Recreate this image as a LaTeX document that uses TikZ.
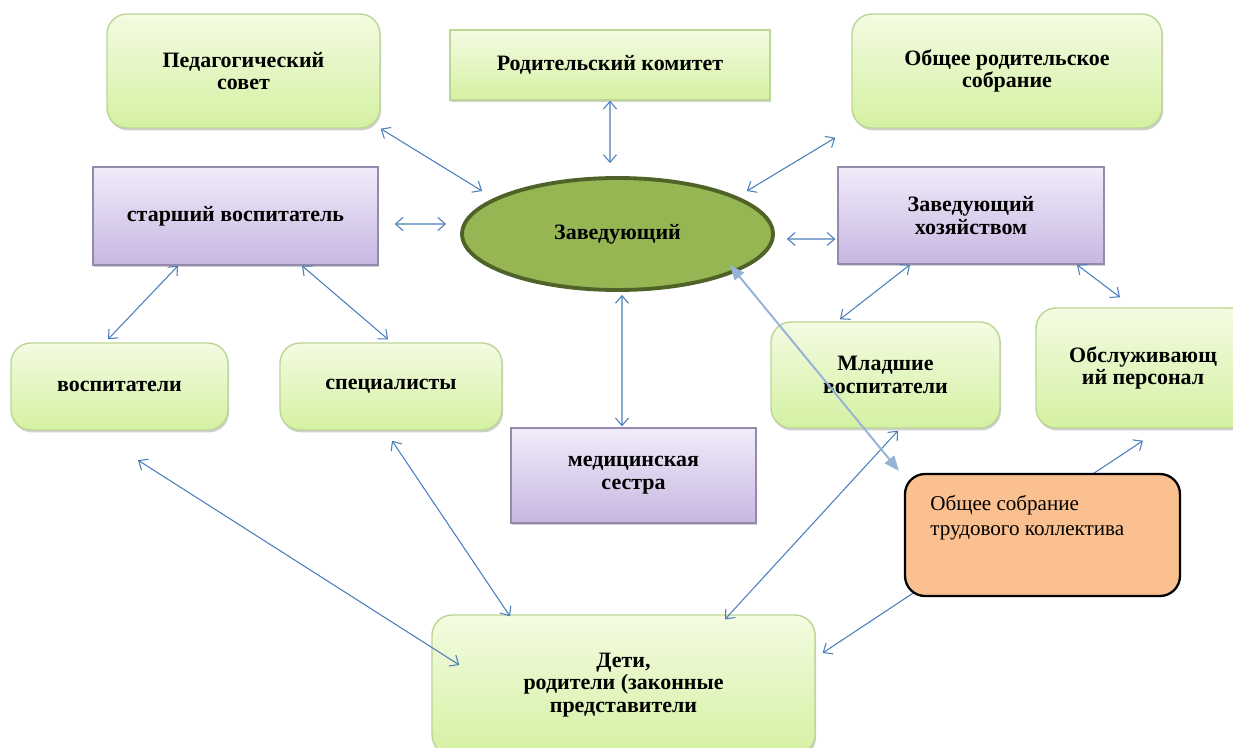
\documentclass[tikz,border=0pt]{standalone}
\usepackage{fontspec}
\setmainfont{Liberation Serif}
\usepackage{tikz}
\usetikzlibrary{shapes.geometric,arrows.meta,shadows}

\definecolor{greentop}{RGB}{244,251,226}
\definecolor{greenbot}{RGB}{212,241,162}
\definecolor{greenline}{RGB}{188,214,150}
\definecolor{violettop}{RGB}{241,235,249}
\definecolor{violetbot}{RGB}{199,183,226}
\definecolor{violetline}{RGB}{150,138,172}
\definecolor{zavfill}{RGB}{150,182,84}
\definecolor{zavline}{RGB}{79,98,40}
\definecolor{linkblue}{RGB}{74,126,187}
\definecolor{bigblue}{RGB}{149,179,215}
\definecolor{orangebox}{RGB}{250,192,144}

\begin{document}
\begin{tikzpicture}[x=0.02cm,y=-0.02cm,
    box/.style={inner sep=0pt, align=center, line width=0.8pt,
        font=\bfseries\fontsize{12.5}{13}\selectfont,
        drop shadow={shadow xshift=0.6pt,shadow yshift=-1.4pt,opacity=0.3,fill=black!60}},
    greenbox/.style={box, rounded corners=0.4cm, draw=greenline,
        top color=greentop, bottom color=greenbot},
    violetbox/.style={box, draw=violetline,
        top color=violettop, bottom color=violetbot},
    link/.style={draw=linkblue, line width=0.6pt,
        {Straight Barb[length=1.5mm,width=2.6mm]}-{Straight Barb[length=1.5mm,width=2.6mm]}},
    biglink/.style={draw=bigblue, line width=1.1pt,
        {Triangle[length=3mm,width=2.4mm]}-{Triangle[length=3mm,width=2.4mm]}}]
    \path[use as bounding box, fill=white] (0,0) rectangle (1233,747);

    \node[greenbox, minimum width=5.46cm, minimum height=2.28cm] (ped) at (243.5,71) {Педагогический\\совет};
    \node[greenbox, rounded corners=0pt, minimum width=6.4cm, minimum height=1.4cm] (rkom) at (610,65) {Родительский комитет};
    \node[greenbox, minimum width=6.2cm, minimum height=2.28cm] (orsob) at (1007,71) {Общее родительское\\собрание};
    \node[violetbox, minimum width=5.7cm, minimum height=1.96cm] (starsh) at (235.5,216) {старший воспитатель};
    \node[ellipse, draw=zavline, line width=2.2pt, fill=zavfill, inner sep=0pt,
        minimum width=6.22cm, minimum height=2.24cm,
        font=\bfseries\fontsize{12.5}{13}\selectfont] (zav) at (617.5,234) {Заведующий};
    \node[violetbox, minimum width=5.32cm, minimum height=1.94cm] (zavhoz) at (971,215.5) {Заведующий\\хозяйством};
    \node[greenbox, minimum width=4.34cm, minimum height=1.74cm] (vosp) at (119.5,386.5) {воспитатели};
    \node[greenbox, minimum width=4.44cm, minimum height=1.74cm] (spec) at (391,386.5) {специалисты};
    \node[violetbox, minimum width=4.9cm, minimum height=1.9cm] (medsis) at (633.5,475.5) {медицинская\\сестра};
    \node[greenbox, minimum width=4.58cm, minimum height=2.12cm] (mlad) at (885.5,375) {Младшие\\воспитатели};
    \node[greenbox, minimum width=4.28cm, minimum height=2.4cm] (obsl) at (1143,368) {Обслуживающ\\ий персонал};
    \node[greenbox, minimum width=7.66cm, minimum height=2.8cm] (deti) at (623.5,685) {Дети,\\родители (законные\\представители};

    \draw[link] (ped.south east) -- ([xshift=0.44cm,yshift=0.86cm]zav.west);
    \draw[link] (rkom.south) -- ([xshift=-0.15cm,yshift=0.26cm]zav.north);
    \draw[link] ([xshift=-0.32cm,yshift=-0.18cm]orsob.south west) -- ([xshift=-0.56cm,yshift=0.86cm]zav.east);
    \draw[link] ([xshift=0.32cm,yshift=-0.16cm]starsh.east) -- ([xshift=-0.28cm,yshift=0.2cm]zav.west);
    \draw[link] ([xshift=0.24cm,yshift=-0.1cm]zav.east) -- ([xshift=-0.04cm,yshift=-0.47cm]zavhoz.west);
    \draw[link] ([xshift=-1.15cm]starsh.south) -- ([xshift=-0.23cm,yshift=0.06cm]vosp.north);
    \draw[link] ([xshift=1.33cm]starsh.south) -- ([xshift=-0.06cm,yshift=0.06cm]spec.north);
    \draw[link] ([xshift=0.09cm,yshift=-0.06cm]zav.south) -- ([xshift=-0.23cm,yshift=0.02cm]medsis.north);
    \draw[link] ([xshift=-1.22cm]zavhoz.south) -- ([xshift=-0.91cm,yshift=0.04cm]mlad.north);
    \draw[link] ([xshift=2.12cm]zavhoz.south) -- ([xshift=-0.46cm,yshift=0.2cm]obsl.north);
    \draw[link] ([xshift=0.37cm,yshift=-0.59cm]vosp.south) -- ([xshift=0.56cm,yshift=0.4cm]deti.west);
    \draw[link] ([xshift=0.02cm,yshift=-0.2cm]spec.south) -- ([xshift=-2.27cm,yshift=-0.04cm]deti.north);
    \draw[link] ([xshift=0.25cm,yshift=-0.04cm]mlad.south) -- ([xshift=2.03cm,yshift=-0.1cm]deti.north);
    \draw[link] ([yshift=-0.24cm]obsl.south) -- ([xshift=0.14cm,yshift=0.64cm]deti.east);

    \node[draw=black, line width=1.3pt, fill=orangebox, rounded corners=0.4cm,
        minimum width=5.5cm, minimum height=2.44cm] (trud) at (1042.5,535) {};
    \node[anchor=north west, align=left, inner sep=0pt,
        font=\fontsize{12}{14}\selectfont] (trudtext) at (930,495) {Общее собрание\\трудового коллектива};
    \draw[biglink] ([xshift=-0.9cm,yshift=-0.62cm]zav.east) -- ([xshift=-0.1cm,yshift=0.04cm]trud.north west);
\end{tikzpicture}
\end{document}
